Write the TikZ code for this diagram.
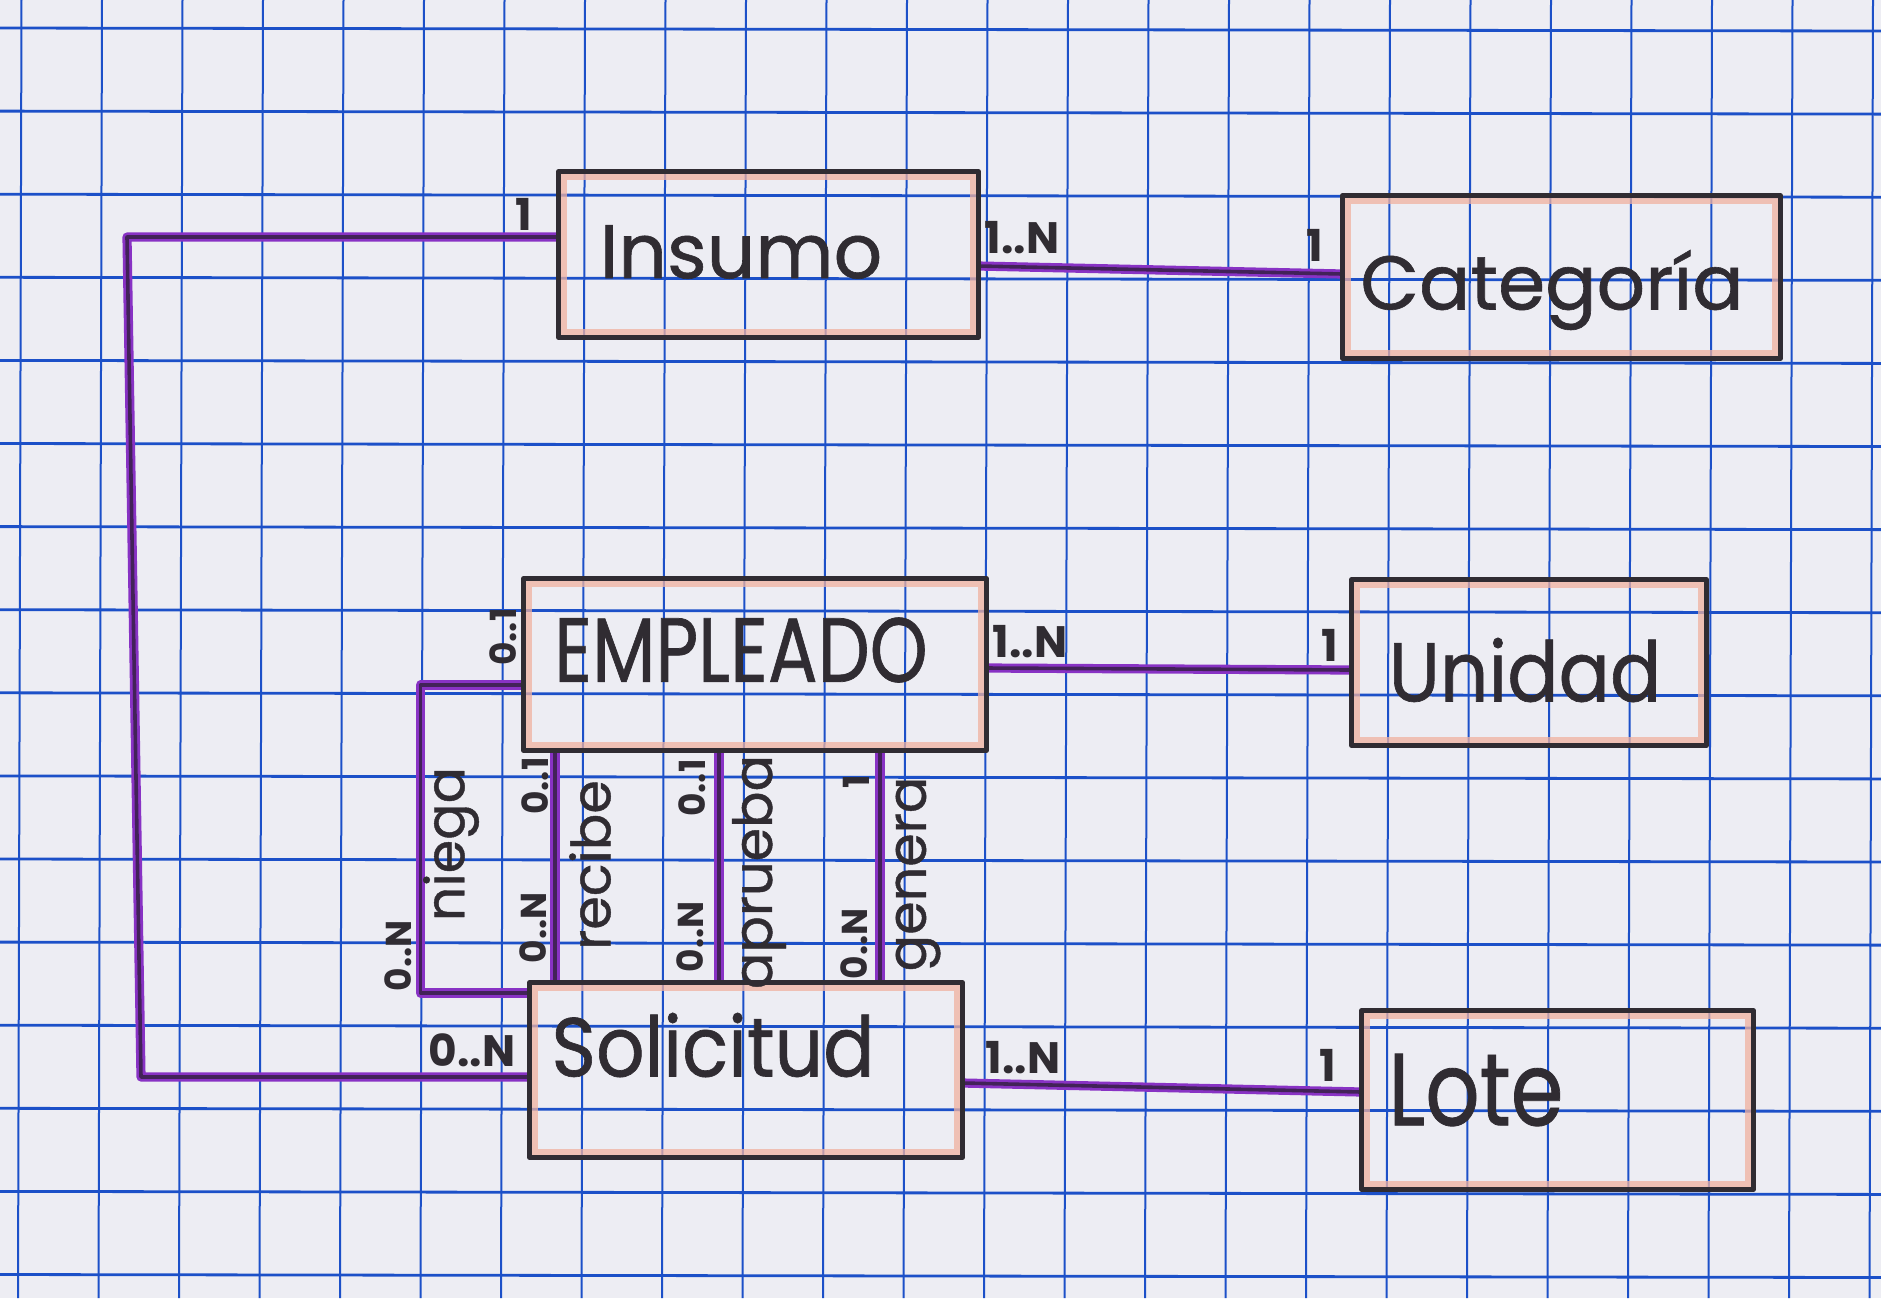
\documentclass[tikz,border=0pt]{standalone}
\usepackage{fontspec}
\setmainfont{Poppins}
\newfontfamily\hand{Poppins}[FakeBold=0.8]
\usetikzlibrary{fit}
\definecolor{paper}{RGB}{237,237,243}
\definecolor{gridblue}{RGB}{28,80,200}
\definecolor{ink}{RGB}{48,44,50}
\definecolor{peach}{RGB}{240,178,160}
\definecolor{violetA}{RGB}{136,50,196}
\definecolor{violetD}{RGB}{66,34,88}
\begin{document}
\begin{tikzpicture}[x=0.5pt,y=-0.5pt,
  entity/.style={draw=none, inner sep=0pt, fit={#1}},
  border/.style={draw=ink, line width=2.5pt, line join=round},
  hl/.style={draw=peach, line width=3.5pt, opacity=0.75},
  ename/.style={text=ink, inner sep=0pt, font=\hand\fontsize{38}{40}\selectfont},
  card/.style={text=ink, inner sep=0pt, font=\bfseries\fontsize{22}{24}\selectfont},
  rcard/.style={text=ink, inner sep=0pt, rotate=90, font=\bfseries\fontsize{18}{20}\selectfont},
  rname/.style={text=ink, inner sep=0pt, rotate=90, font=\hand\fontsize{27}{28}\selectfont},
  rel/.style={draw=violetA, line width=4.6pt, line join=round, postaction={draw=violetD, line width=1.8pt}},
  gv/.style={draw=gridblue, line width=1pt},
  gh/.style={draw=gridblue, line width=1.4pt},
]
% paper
\fill[paper] (0,0) rectangle (1881,1298);
\useasboundingbox (0,0) rectangle (1881,1298);
% grid
\foreach \i in {0,...,23} \draw[gv] (21.5+80.5*\i,0) -- (18+80.5*\i,1298);
\foreach \j in {0,...,15} \draw[gh] (0,28+83.1*\j) -- (1881,31+83.1*\j);

% entity boxes (positions)
\node[entity={(559,172) (978,337)}] (ins) {};
\node[entity={(1343,196) (1780,358)}] (cat) {};
\node[entity={(524,579) (986,750)}] (emp) {};
\node[entity={(1352,580) (1706,745)}] (uni) {};
\node[entity={(530,983) (962,1157)}] (sol) {};
\node[entity={(1362,1011) (1753,1189)}] (lot) {};
\coordinate (k1) at (127,237);
\coordinate (k2) at (141,1077);

% connectors
\draw[rel] ([shift={(0,11.5)}]ins.east) -- ([shift={(0,-3)}]cat.west);
\draw[rel] ([shift={(0,-17.5)}]ins.west) -- (k1) -- (k2) -- ([shift={(0,7)}]sol.west);
\draw[rel] ([shift={(0,3.5)}]emp.east) -- ([shift={(0,7.5)}]uni.west);
\draw[rel] ([shift={(0,13)}]sol.east) -- ([shift={(0,-8)}]lot.west);
\draw[rel] ([shift={(0,20.5)}]emp.west) -- ++(-103,0) |- ([shift={(0,-77)}]sol.west);
\draw[rel] ([shift={(-200,0)}]emp.south) -- ([shift={(-191,0)}]sol.north);
\draw[rel] ([shift={(-36,0)}]emp.south) -- ([shift={(-27,0)}]sol.north);
\draw[rel] ([shift={(125,0)}]emp.south) -- ([shift={(134,0)}]sol.north);

% box highlights and borders
\foreach \n in {ins,cat,emp,uni,sol,lot}{
  \draw[hl] ([shift={(5,5)}]\n.north west) rectangle ([shift={(-5,-5)}]\n.south east);
  \draw[border] (\n.north west) rectangle (\n.south east);
}

% entity names
\node[ename] (tins) at (741,252) {Insumo};
\node[ename] (tcat) at (1552,290) {Categoría};
\node[ename] (temp) at (741,650) {\scalebox{0.97}[1.2]{EMPLEADO}};
\node[ename] (tuni) at (1525,670) {\scalebox{1}[1.1]{Unidad}};
\node[ename] (tsol) at (713,1045) {\scalebox{1}[1.1]{Solicitud}};
\node[ename] (tlot) at (1476,1090) {\scalebox{1.12}[1.35]{Lote}};

% cardinalities
\node[card] (c1) at (1022,238) {1..N};
\node[card] (c2) at (1315,245) {1};
\node[card] (c3) at (524,214) {1};
\node[card] (c4) at (472,1050) {0..N};
\node[card] (c5) at (1030,642) {1..N};
\node[card] (c6) at (1330,645) {1};
\node[card] (c7) at (1023,1058) {1..N};
\node[card] (c8) at (1328,1065) {1};
\node[rcard] (c9) at (503,637) {0..1};
\node[rcard] (c10) at (398,956) {0..N};
\node[rcard] (c11) at (535,786) {0..1};
\node[rcard] (c12) at (533,928) {0..N};
\node[rcard] (c13) at (692,788) {0..1};
\node[rcard] (c14) at (690,937) {0..N};
\node[rcard] (c15) at (856,782) {1};
\node[rcard] (c16) at (854,944) {0..N};

% relationship names
\node[rname] (rn) at (451,844) {niega};
\node[rname] (rr) at (590,865) {recibe};
\node[rname] (ra) at (759,872) {aprueba};
\node[rname] (rg) at (918,874) {genera};
\end{tikzpicture}
\end{document}
